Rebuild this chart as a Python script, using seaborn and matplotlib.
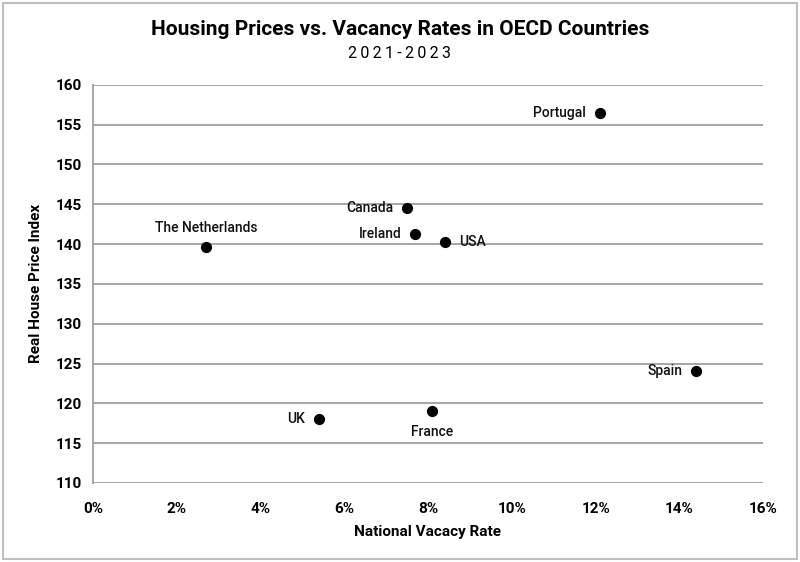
import matplotlib
matplotlib.use("Agg")
import matplotlib.pyplot as plt
import seaborn as sns
import pandas as pd
from matplotlib.ticker import FuncFormatter, MultipleLocator
from matplotlib.patches import Rectangle

countries = ["The Netherlands", "Canada", "Ireland", "USA", "Portugal", "Spain", "UK", "France"]
vacancy = [2.7, 7.5, 7.7, 8.4, 12.1, 14.4, 5.4, 8.1]
price_index = [139.6, 144.5, 141.2, 140.2, 156.5, 124.0, 118.0, 119.0]
label_pos = ["above", "left", "left", "right", "left", "left", "left", "below"]

df = pd.DataFrame({"country": countries, "vacancy": vacancy, "price": price_index})

sns.set_theme(style="white")
plt.rcParams["font.family"] = ["Roboto", "DejaVu Sans"]
plt.rcParams["text.color"] = "black"
plt.rcParams["axes.labelcolor"] = "black"

fig = plt.figure(figsize=(8, 5.62), dpi=100)
ax = fig.add_axes([0.116, 0.1406, 0.838, 0.7086])

sns.scatterplot(data=df, x="vacancy", y="price", ax=ax, color="black", s=65,
                edgecolor="black", linewidth=0, zorder=3)

ax.set_xlim(0, 16)
ax.set_ylim(110, 160)
ax.xaxis.set_major_locator(MultipleLocator(2))
ax.yaxis.set_major_locator(MultipleLocator(5))
ax.xaxis.set_major_formatter(FuncFormatter(lambda v, p: f"{v:.0f}%"))
ax.grid(axis="y", color="#a6a6a6", linewidth=1.4)
ax.set_axisbelow(True)
for s in ["top", "right", "bottom"]:
    ax.spines[s].set_visible(False)
ax.spines["left"].set_color("#a6a6a6")
ax.spines["left"].set_linewidth(1.4)
ax.tick_params(axis="both", length=0, labelsize=11, colors="black", pad=8)
for t in ax.get_xticklabels() + ax.get_yticklabels():
    t.set_fontweight("bold")
ax.tick_params(axis="x", pad=14)

ax.set_xlabel("National Vacacy Rate", fontsize=11, fontweight="bold", labelpad=6, color="black")
ax.set_ylabel("Real House Price Index", fontsize=11, fontweight="bold", labelpad=9, color="black")

for c, x, y, pos in zip(countries, vacancy, price_index, label_pos):
    kw = dict(textcoords="offset points", fontsize=10, color="#111111", fontweight="medium")
    if pos == "left":
        ax.annotate(c, (x, y), xytext=(-10, 0), ha="right", va="center", **kw)
    elif pos == "right":
        ax.annotate(c, (x, y), xytext=(10, 0), ha="left", va="center", **kw)
    elif pos == "above":
        ax.annotate(c, (x, y), xytext=(0, 9), ha="center", va="bottom", **kw)
    else:
        ax.annotate(c, (x, y), xytext=(0, -10), ha="center", va="top", **kw)

fig.text(0.5, 0.948, "Housing Prices vs. Vacancy Rates in OECD Countries",
         ha="center", va="center", fontsize=15, fontweight="bold", color="black")
fig.text(0.5, 0.905, "2 0 2 1 - 2 0 2 3".replace(" ", "\u2009"), ha="center", va="center",
         fontsize=11.5, color="black")

fig.patches.append(Rectangle((0.004, 0.005), 0.992, 0.99, transform=fig.transFigure,
                             fill=False, edgecolor="#bfbfbf", linewidth=1.5))

fig.savefig("out.png", dpi=100)
